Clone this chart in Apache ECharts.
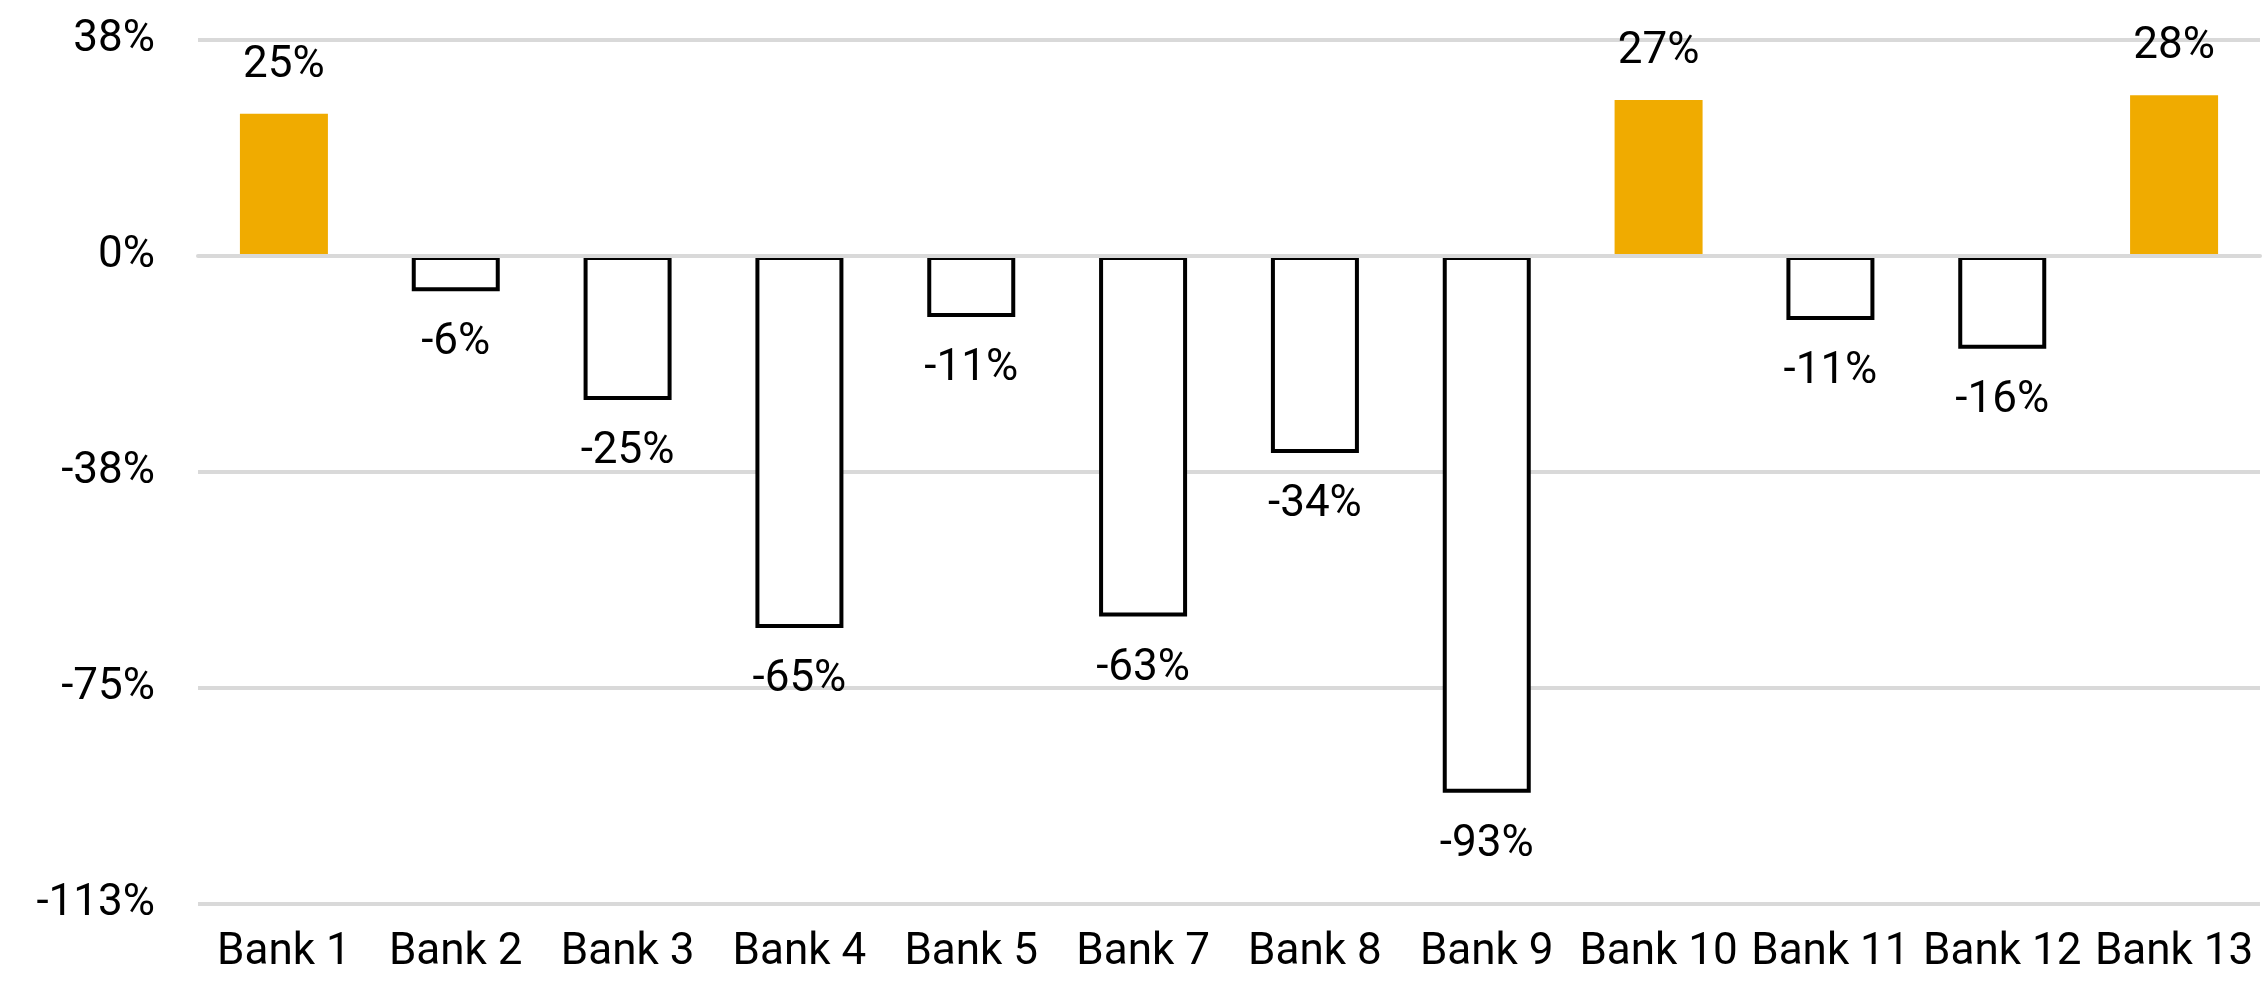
<!DOCTYPE html>
<html>
<head>
<meta charset="utf-8">
<script src="https://cdn.jsdelivr.net/npm/echarts@6/dist/echarts.min.js"></script>
<style>
html,body{margin:0;padding:0;background:#fff;}
#chart{width:2264px;height:984px;}
</style>
</head>
<body>
<div id="chart"></div>
<script>
const categories = ['Bank 1','Bank 2','Bank 3','Bank 4','Bank 5','Bank 7','Bank 8','Bank 9','Bank 10','Bank 11','Bank 12','Bank 13'];
const values = [24.7, -6.1, -25.0, -64.6, -10.6, -62.6, -34.2, -93.2, 27.1, -11.1, -16.1, 27.9];
const yTicks = [-112.5, -75, -37.5, 0, 37.5];

const ORANGE = '#F0AB00';
const GRID = '#D9D9D9';
const fmtPct = v => (v < 0 ? '-' : '') + Math.round(Math.abs(v)) + '%';

const chart = echarts.init(document.getElementById('chart'), null, {renderer: 'canvas'});
const data = values.map(v => v >= 0 ? {
  value: v,
  itemStyle: {color: ORANGE, borderWidth: 0},
  label: {position: 'top', distance: 26}
} : {
  value: v,
  itemStyle: {color: '#fff', borderColor: '#000', borderWidth: 4},
  label: {position: 'bottom', distance: 30}
});

chart.setOption({
  animation: false,
  backgroundColor: '#fff',
  grid: {left: 198, right: 4, top: 40, bottom: 80, containLabel: false},
  xAxis: {
    type: 'category',
    data: categories,
    z: 3,
    axisLine: {show: true, onZero: true, lineStyle: {color: GRID, width: 4}},
    axisTick: {show: false},
    axisLabel: {
      interval: 0,
      margin: 27,
      color: '#000',
      fontFamily: 'Roboto, sans-serif',
      fontSize: 44
    }
  },
  yAxis: {
    type: 'value',
    min: yTicks[0],
    max: yTicks[yTicks.length - 1],
    interval: yTicks[1] - yTicks[0],
    axisLine: {show: false},
    axisTick: {show: false},
    splitLine: {show: true, lineStyle: {color: GRID, width: 4}},
    axisLabel: {
      margin: 43,
      color: '#000',
      fontFamily: 'Roboto, sans-serif',
      fontSize: 44,
      formatter: fmtPct
    }
  },
  series: [{
    type: 'bar',
    data: data,
    barWidth: 88,
    label: {
      show: true,
      color: '#000',
      fontFamily: 'Roboto, sans-serif',
      fontSize: 44,
      formatter: p => fmtPct(p.value)
    }
  }]
});
</script>
</body>
</html>
